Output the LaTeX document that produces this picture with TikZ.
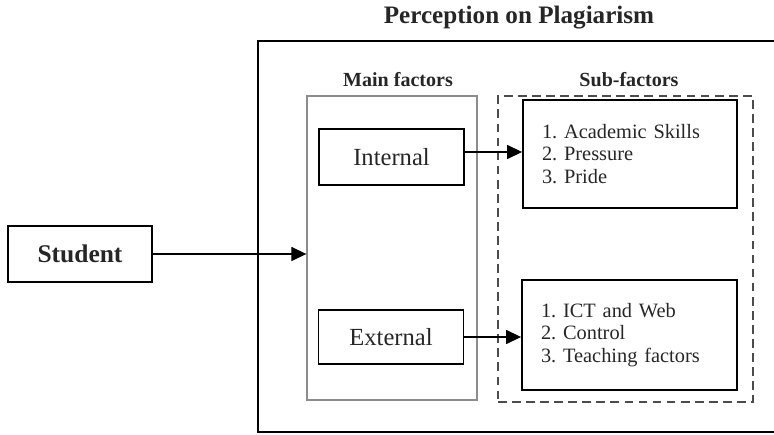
\documentclass[tikz,border=0pt]{standalone}
\usepackage{fontspec}
\setmainfont{Liberation Serif}
\usetikzlibrary{arrows.meta}
\frenchspacing
\newcommand{\tikzScale}{1.0}
\newcommand{\pxUnit}{0.02cm}
\newcommand{\titleText}{Perception on Plagiarism}
\newcommand{\headSize}{\fontsize{11.4}{13}\selectfont\bfseries}
\newcommand{\itemSize}{\fontsize{11.6}{12.8}\selectfont}
\newcommand{\bigSize}{\fontsize{14}{16}\selectfont}
\newcommand{\subLeftSep}{0.38cm}

\tikzset{
  factorbox/.style={draw,line width=1.1pt,minimum width=2.9cm,minimum height=1.12cm,inner sep=0pt,font=\bigSize},
  subbox/.style={draw,line width=1.1pt,text width=3.52cm,align=left,inner xsep=\subLeftSep,inner ysep=0pt,minimum height=2.16cm,font=\itemSize},
  flow/.style={line width=0.6pt,-{Triangle[length=8.5pt,width=8pt]}}
}

\begin{document}
\begin{tikzpicture}[scale=\tikzScale, x=\pxUnit, y=-\pxUnit, text=black!85]
\useasboundingbox (0,0) rectangle (774,435);

\node (title) [font=\fontsize{14.3}{16}\selectfont\bfseries] at (519,18) {\titleText};
\draw[line width=1.1pt] (780,41) -| (258,432) -- (780,432);

\node (mainhead) [font=\headSize] at (398,80) {Main factors};
\node (subhead) [font=\headSize] at (629,80) {Sub-factors};

\node (mainbox) [draw=black!45,line width=0.8pt,minimum width=3.4cm,minimum height=6.08cm] at (392,248) {};
\node (subframe) [draw=black!70,line width=1.1pt,dash pattern=on 5pt off 3pt,minimum width=5.1cm,minimum height=6.12cm] at (625.5,249) {};

\node (student) [factorbox,minimum width=2.88cm,font=\fontsize{14.5}{16}\selectfont\bfseries] at (80,254) {Student};
\node (internal) [factorbox] at (391.5,157) {Internal};
\node (external) [factorbox,minimum height=1.08cm] at (391,337) {External};

\node (academic) [subbox] at (630,154) {1. Academic Skills\\2. Pressure\\3. Pride};
\node (ict) [subbox,minimum height=2.2cm,text width=3.54cm] at (629.5,335) {1. ICT and Web\\2. Control\\3. Teaching factors};

\draw[flow] (student.east) -- (student.east -| mainbox.west);
\draw[flow] ([yshift=0.1cm]internal.east) -- ([yshift=0.1cm]internal.east -| academic.west);
\draw[flow] (external.east) -- (external.east -| ict.west);
\end{tikzpicture}
\end{document}
